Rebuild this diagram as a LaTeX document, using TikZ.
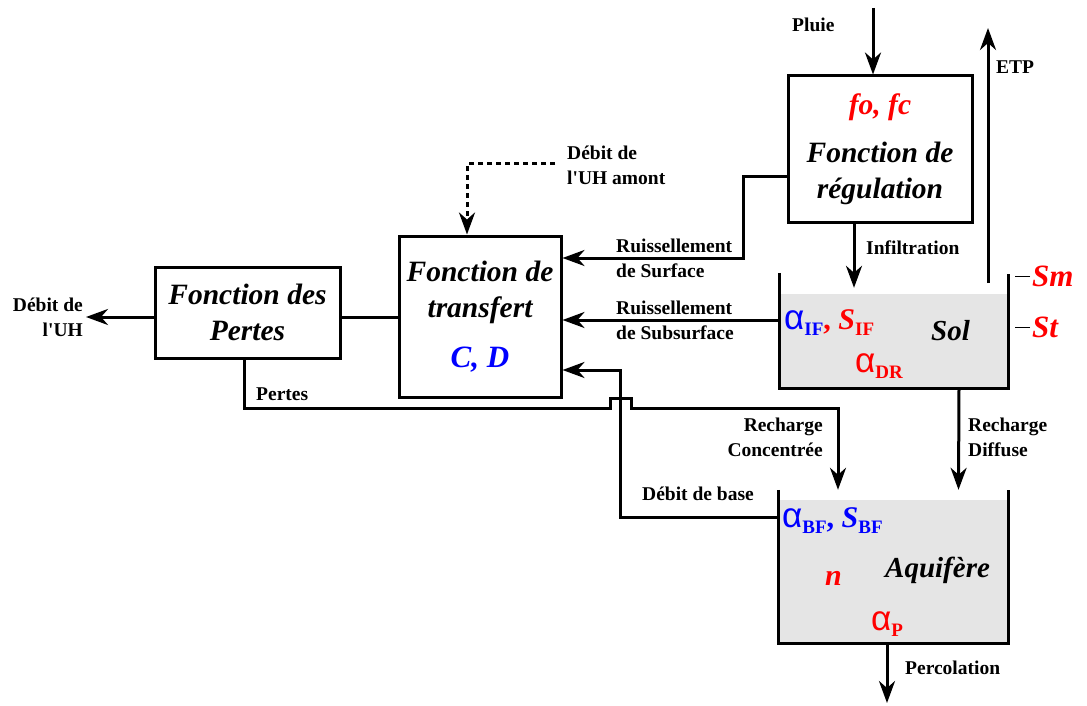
\documentclass[tikz,border=0pt]{standalone}
\usepackage{fontspec}
\setmainfont{Liberation Serif}
\newfontfamily\grk{Liberation Sans}
\usetikzlibrary{arrows.meta, positioning}
\newcommand{\al}{{\grk\mdseries\upshape\fontsize{35}{35}\selectfont α}}
\newcommand{\sbs}[1]{\raisebox{-6pt}{\fontsize{19}{19}\selectfont\bfseries\upshape #1}}
\tikzset{
  fbox/.style={
    rectangle, draw, line width=3pt, align=center, inner sep=0pt,
    font=\fontsize{29.5}{36}\selectfont\bfseries\itshape
  },
  lbl/.style={font=\fontsize{19.5}{25}\selectfont\bfseries, inner sep=0pt},
  flow/.style={-{Stealth[length=22pt, width=16pt, inset=7pt]}, line width=3pt},
  link/.style={line width=3pt},
  wall/.style={line width=3pt},
  tank/.style={rectangle, fill=gray!20, inner sep=0pt},
  param/.style={font=\fontsize{30}{30}\selectfont\bfseries, inner sep=0pt},
}

\begin{document}
\begin{tikzpicture}[x=1pt, y=-1pt]
\useasboundingbox (0,0) rectangle (1087,706);

%% ---- BOXES ----
\node[fbox, minimum width=184pt, minimum height=146pt] (regul) at (880,149)
  {\textcolor{red}{fo, fc}\\[12pt]Fonction de\\régulation};
\node[fbox, minimum width=162pt, minimum height=161pt] (transf) at (480,316.5)
  {Fonction de\\transfert\\[14pt]\textcolor{blue}{\fontsize{31}{36}\selectfont C, D}};
\node[fbox, minimum width=185pt, minimum height=91pt] (pertes) at (247.5,312.5)
  {Fonction des\\Pertes};

%% ---- TANKS ----
\node[tank, minimum width=228pt, minimum height=94pt] (sol) at (894,341) {};
\draw[wall] ([yshift=21pt]sol.north west) -- (sol.south west)
  -- (sol.south east) -- ([yshift=20pt]sol.north east);
\node[tank, minimum width=229pt, minimum height=143pt] (aquif) at (893.5,571.5) {};
\draw[wall] ([yshift=10pt]aquif.north west) -- (aquif.south west)
  -- (aquif.south east) -- ([yshift=10pt]aquif.north east);

%% parameters in the tanks
\node[param, anchor=base west] (psol) at (784,329)
  {\textcolor{blue}{\al\sbs{IF}}\textcolor{red}{, \textit{S}\sbs{IF}}};
\node[param, anchor=base west, font=\fontsize{29}{29}\selectfont\bfseries\itshape] (soltxt) at (931,340) {Sol};
\node[param, anchor=base west, red] (pdr) at (855,372) {\al\sbs{DR}};
\node[param, anchor=base west, blue] (paq) at (782,527) {\al\sbs{BF}, \textit{S}\sbs{BF}};
\node[param, anchor=base west, red, font=\fontsize{30}{30}\selectfont\bfseries\itshape] (pn) at (825,585) {n};
\node[param, anchor=base west, font=\fontsize{29}{29}\selectfont\bfseries\itshape] (aqtxt) at (885,577) {Aquifère};
\node[param, anchor=base west, red] (pp) at (871,630) {\al\sbs{P}};

%% storage levels
\node[param, anchor=west, red, font=\fontsize{31}{31}\selectfont\bfseries\itshape] (sm) at (1032,276) {Sm};
\draw[line width=1pt] ([xshift=-2pt]sm.west) -- ++(-15,0);
\node[param, anchor=west, red, font=\fontsize{31}{31}\selectfont\bfseries\itshape] (st) at (1032,327) {St};
\draw[line width=1pt] ([xshift=-2pt]st.west) -- ++(-15,0);

%% ---- FLOWS ----
\coordinate (rain) at (873,8);
\draw[flow] (rain) -- (rain |- regul.north);
\node[lbl, anchor=west] (lrain) at (792,25) {Pluie};

\coordinate (etp0) at (988,283);
\coordinate (etp1) at (988,28);
\draw[flow] (etp0) -- (etp1);
\node[lbl, anchor=west] (letp) at (996,67) {ETP};

\draw[flow, shorten >=6pt] ([xshift=-26pt]regul.south) -- ([xshift=-26pt]regul.south |- sol.north);
\node[lbl, anchor=west] (linf) at (866,248) {Infiltration};

\draw[flow] ([yshift=-27pt]regul.west) -| (743,258) -- (transf.east |- 743,258);
\node[lbl, anchor=west, align=left] (lsurf) at (616,258) {Ruissellement\\de Surface};

\draw[flow] (sol.west |- 0,320) -- (transf.east |- 0,320);
\node[lbl, anchor=west, align=left] (lsub) at (616,320.5) {Ruissellement\\de Subsurface};

\coordinate (amont) at (555,164);
\draw[flow, dash pattern=on 5pt off 4pt] (amont) -| ([xshift=-13pt]transf.north);
\node[lbl, anchor=west, align=left] (lamont) at (567,165) {Débit de\\l\textquotesingle UH amont};

\draw[link] (transf.west |- 0,317) -- (pertes.east |- 0,317);
\coordinate (out) at (86,317);
\draw[flow] (pertes.west |- 0,317) -- (out);
\node[lbl, anchor=east, align=right] (lout) at (83,317.5) {Débit de\\l\textquotesingle UH};

\draw[flow] (aquif.west |- 0,517) -| (620,370) -- (transf.east |- 0,370);
\node[lbl, anchor=west] (lbase) at (642,494) {Débit de base};

%% losses routed to concentrated recharge, hopping over the base flow
\draw[flow] ([xshift=-3.5pt]pertes.south) |- (610,408) -- (610,398) -- (631,398)
  -- (631,408) -| ([xshift=-55.5pt,yshift=10pt]aquif.north);
\node[lbl, anchor=west] (lpertes) at (256,394) {Pertes};
\node[lbl, anchor=east, align=right] (lconc) at (823,437.5) {Recharge\\Concentrée};

\draw[flow] ([xshift=65pt]sol.south) -- ([xshift=65pt,yshift=10pt]aquif.north);
\node[lbl, anchor=west, align=left] (ldiff) at (968,437.5) {Recharge\\Diffuse};

\coordinate (perc) at (887,703);
\draw[flow] (aquif.south -| perc) -- (perc);
\node[lbl, anchor=west] (lperc) at (905,668) {Percolation};

\end{tikzpicture}
\end{document}
